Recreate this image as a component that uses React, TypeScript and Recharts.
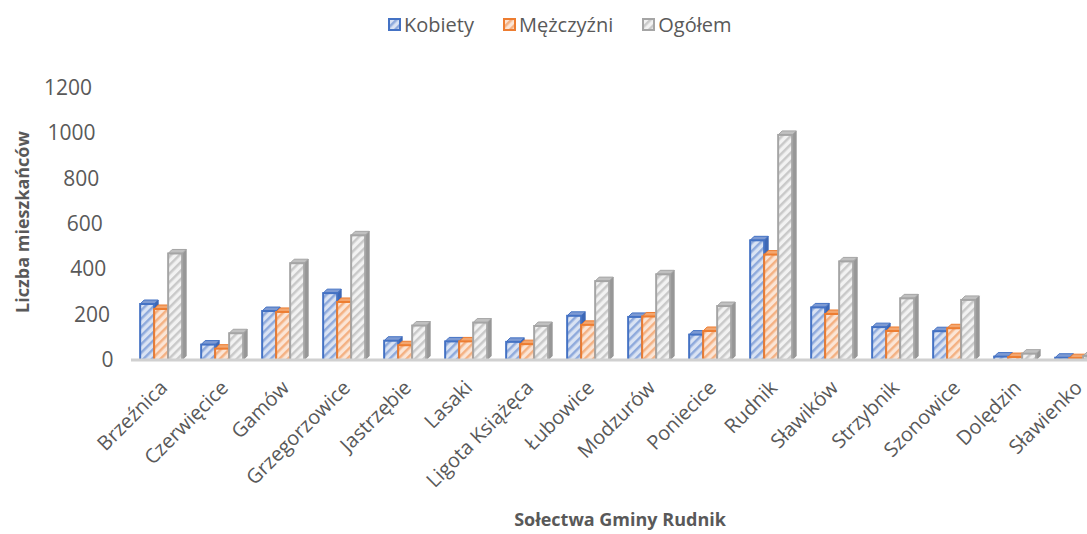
import React from 'react';
import { BarChart, Bar, XAxis, YAxis, Legend, Label } from 'recharts';

const categories = ['Brzeźnica', 'Czerwięcice', 'Gamów', 'Grzegorzowice', 'Jastrzębie', 'Lasaki', 'Ligota Książęca', 'Łubowice', 'Modzurów', 'Poniecice', 'Rudnik', 'Sławików', 'Strzybnik', 'Szonowice', 'Dolędzin', 'Sławienko'];
const kobiety = [247, 68, 216, 295, 85, 82, 80, 195, 190, 112, 528, 232, 145, 127, 15, 10];
const mezczyzni = [225, 50, 212, 256, 65, 82, 70, 155, 192, 128, 465, 203, 128, 140, 13, 8];
const ogolem = [470, 118, 427, 550, 152, 165, 150, 348, 378, 238, 993, 435, 272, 265, 28, 18];
const yTicks = [0, 200, 400, 600, 800, 1000, 1200];

const data = categories.map((name, i) => ({ name, k: kobiety[i], m: mezczyzni[i], o: ogolem[i] }));

const FONT = '"Open Sans", "Noto Sans", sans-serif';
const TEXT = '#595959';

const series = [
  { key: 'k', name: 'Kobiety', pat: 'patK', stroke: '#4472C4', bg: '#dae3f3', stripe: '#8faadc', side: '#3d67b5', top: '#7d9ad3' },
  { key: 'm', name: 'Mężczyźni', pat: 'patM', stroke: '#ED7D31', bg: '#fbe5d6', stripe: '#f4b183', side: '#de7029', top: '#f3a66f' },
  { key: 'o', name: 'Ogółem', pat: 'patO', stroke: '#A5A5A5', bg: '#f2f2f2', stripe: '#c9c9c9', side: '#979797', top: '#c0c0c0' },
];

const D = 4;

const make3D = (s: any) => (props: any) => {
  const { x, y, width, height } = props;
  if (width == null || height == null || isNaN(x) || isNaN(y)) return <g />;
  const w = width;
  const h = Math.max(height, 0);
  return (
    <g>
      <polygon
        points={`${x + w},${y} ${x + w + D},${y - D} ${x + w + D},${y + h - D} ${x + w},${y + h}`}
        fill={s.side}
        stroke={s.side}
        strokeWidth={1}
      />
      <polygon
        points={`${x},${y} ${x + D},${y - D} ${x + w + D},${y - D} ${x + w},${y}`}
        fill={s.top}
        stroke={s.stroke}
        strokeWidth={1}
      />
      <rect x={x} y={y} width={w} height={h} fill={`url(#${s.pat})`} stroke={s.stroke} strokeWidth={2} />
    </g>
  );
};

const YTick = (props: any) => {
  const { y, payload } = props;
  const v = payload.value as number;
  const xr = 92 + ((1200 - v) / 200) * 3.6;
  return (
    <text x={xr} y={y} dy={7} textAnchor="end" fontSize={21} fill={TEXT} fontFamily={FONT}>
      {v}
    </text>
  );
};

const XTick = (props: any) => {
  const { x, payload } = props;
  return (
    <g transform={`translate(${x + 7},${389})`}>
      <text textAnchor="end" transform="rotate(-45)" fontSize={20} fill={TEXT} fontFamily={FONT}>
        {payload.value}
      </text>
    </g>
  );
};

const LegendContent = () => (
  <div style={{ display: 'flex', alignItems: 'center', fontFamily: FONT, fontSize: 20, color: TEXT, whiteSpace: 'nowrap' }}>
    {series.map((s) => (
      <div key={s.key} style={{ display: 'flex', alignItems: 'center', marginRight: 29 }}>
        <svg width={13} height={13} style={{ marginRight: 3 }}>
          <rect x={1} y={1} width={11} height={11} fill={`url(#${s.pat})`} stroke={s.stroke} strokeWidth={2} />
        </svg>
        <span>{s.name}</span>
      </div>
    ))}
  </div>
);

export default function App() {
  return (
    <div style={{ position: 'absolute', left: 0, top: 0, width: 1087, height: 534, overflow: 'hidden', background: '#fff' }}>
      <BarChart
        width={1107}
        height={534}
        data={data}
        margin={{ top: 88, right: 0, bottom: 0, left: 0 }}
        barCategoryGap="15%"
        barGap={0}
      >
        <defs>
          {series.map((s) => (
            <pattern key={s.pat} id={s.pat} patternUnits="userSpaceOnUse" width={6} height={6} patternTransform="rotate(45)">
              <rect width={6} height={6} fill={s.bg} />
              <rect width={2.5} height={6} fill={s.stripe} />
            </pattern>
          ))}
        </defs>
        <XAxis
          dataKey="name"
          height={174}
          interval={0}
          tickLine={false}
          axisLine={{ stroke: '#d0d0d0', strokeWidth: 3 }}
          tick={<XTick />}
        >
          <Label
            content={() => (
              <text x={620} y={526} textAnchor="middle" fontSize={18} fontWeight="bold" fill={TEXT} fontFamily={FONT}>
                Sołectwa Gminy Rudnik
              </text>
            )}
          />
        </XAxis>
        <YAxis
          width={131}
          domain={[0, 1200]}
          ticks={yTicks}
          axisLine={false}
          tickLine={false}
          tick={<YTick />}
        >
          <Label
            content={() => (
              <text
                x={22}
                y={222}
                transform="rotate(-90 22 222)"
                textAnchor="middle"
                dominantBaseline="central"
                fontSize={18}
                fontWeight="bold"
                fill={TEXT}
                fontFamily={FONT}
              >
                Liczba mieszkańców
              </text>
            )}
          />
        </YAxis>
        <Legend
          layout="horizontal"
          verticalAlign="middle"
          align="center"
          content={<LegendContent />}
          wrapperStyle={{ position: 'absolute', top: 11, left: 388, width: 'auto', height: 'auto' }}
        />
        {series.map((s) => (
          <Bar key={s.key} dataKey={s.key} name={s.name} fill={`url(#${s.pat})`} stroke={s.stroke} isAnimationActive={false} shape={make3D(s)} />
        ))}
      </BarChart>
    </div>
  );
}
